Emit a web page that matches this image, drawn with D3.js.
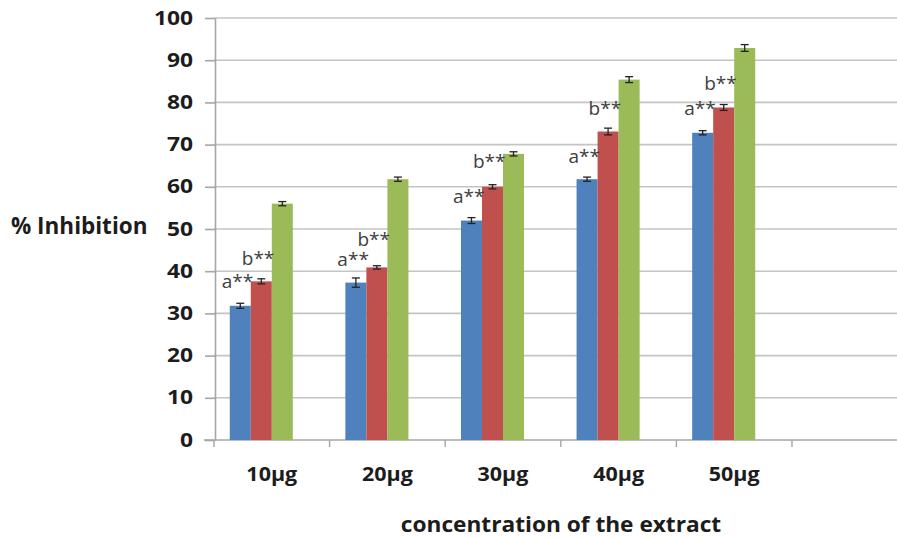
<!DOCTYPE html>
<html>
<head>
<meta charset="utf-8">
<script src="https://cdn.jsdelivr.net/npm/d3@7"></script>
<style>
  html, body { margin: 0; padding: 0; background: #fff; }
  svg { display: block; }
</style>
</head>
<body>
<svg id="chart" width="897" height="539"></svg>
<script>
// Extract concentrations (x categories)
const categories = ["10μg", "20μg", "30μg", "40μg", "50μg"];
// % inhibition for the three groups at each concentration
const blueValues  = [31.8, 37.3, 52.0, 61.8, 72.8];
const redValues   = [37.6, 40.9, 60.0, 73.1, 78.8];
const greenValues = [56.0, 61.8, 67.8, 85.4, 92.9];
// Error bar half-widths
const blueErrors  = [0.6, 1.1, 0.7, 0.5, 0.5];
const redErrors   = [0.6, 0.4, 0.5, 0.8, 0.7];
const greenErrors = [0.5, 0.5, 0.5, 0.7, 0.8];
// Significance marks and the value level of their baselines
const aMarks = ["a**", "a**", "a**", "a**", "a**"];
const bMarks = ["b**", "b**", "b**", "b**", "b**"];
const aLevels = [36.0, 41.3, 56.2, 65.6, 77.0];
const bLevels = [41.5, 46.0, 64.5, 77.0, 82.9];
// Y axis ticks
const yTicks = [0, 10, 20, 30, 40, 50, 60, 70, 80, 90, 100];

const yTitle = "% Inhibition";
const xTitle = "concentration of the extract";

const series = [
  { values: blueValues,  errors: blueErrors,  color: "#4F81BD" },
  { values: redValues,   errors: redErrors,   color: "#C0504D" },
  { values: greenValues, errors: greenErrors, color: "#9BBB59" }
];

const svg = d3.select("#chart");
const W = 897;
const plotLeft = 214, plotTop = 18, plotBottom = 440;
const band = 115.6;

// widen glyphs horizontally by factor k
function widen(sel, k) {
  sel.each(function () {
    const len = this.getComputedTextLength();
    d3.select(this).attr("textLength", len * k).attr("lengthAdjust", "spacingAndGlyphs");
  });
}

// one extra empty slot on the right of the category axis
const slots = categories.concat([""]);
const x0 = d3.scaleBand().domain(slots).range([plotLeft, plotLeft + band * slots.length]).padding(0);
// four bar slots per category (last one unused), Excel-like 150% gap
const barW = x0.bandwidth() / 5.5;
const x1 = d3.scaleBand().domain([0, 1, 2, 3]).range([0.75 * barW, 4.75 * barW]).padding(0);
const y = d3.scaleLinear().domain([0, 100]).range([plotBottom, plotTop]);

const fontBold = "'Open Sans', 'DejaVu Sans', sans-serif";
const textDark = "#1c1c1c";

// gridlines
svg.append("g")
  .selectAll("line")
  .data(yTicks.filter(d => d > 0))
  .join("line")
  .attr("x1", plotLeft).attr("x2", W)
  .attr("y1", d => y(d)).attr("y2", d => y(d))
  .attr("stroke", "#c4c4c4")
  .attr("stroke-width", 1.6);

// y axis
const yAxis = svg.append("g")
  .attr("transform", `translate(${plotLeft + 1},0)`)
  .call(d3.axisLeft(y).tickValues(yTicks).tickSize(10).tickPadding(12).tickSizeOuter(0));
yAxis.select(".domain").attr("stroke", "#a6a6a6").attr("stroke-width", 1.6);
yAxis.selectAll(".tick line").attr("stroke", "#a6a6a6").attr("stroke-width", 1.6);
yAxis.selectAll(".tick text")
  .attr("font-family", fontBold)
  .attr("font-weight", "bold")
  .attr("font-size", 19)
  .attr("fill", textDark)
  .call(widen, 1.2);

// x axis
const xAxis = svg.append("g")
  .attr("transform", `translate(0,${plotBottom})`);
xAxis.append("line")
  .attr("x1", plotLeft - 10).attr("x2", W)
  .attr("stroke", "#a6a6a6").attr("stroke-width", 1.6);
xAxis.selectAll("line.tk")
  .data(slots)
  .join("line")
  .attr("class", "tk")
  .attr("x1", d => x0(d)).attr("x2", d => x0(d))
  .attr("y1", 0).attr("y2", 7)
  .attr("stroke", "#a6a6a6").attr("stroke-width", 1.4);
xAxis.selectAll("text")
  .data(categories)
  .join("text")
  .attr("x", d => x0(d) + x0.bandwidth() / 2)
  .attr("y", 41)
  .attr("text-anchor", "middle")
  .attr("font-family", fontBold)
  .attr("font-weight", "bold")
  .attr("font-size", 19)
  .attr("fill", textDark)
  .text(d => d)
  .call(widen, 1.13);

// bars
series.forEach((s, si) => {
  const g = svg.append("g");
  g.selectAll("rect")
    .data(categories)
    .join("rect")
    .attr("x", d => x0(d) + x1(si))
    .attr("width", x1.bandwidth())
    .attr("y", (d, i) => y(s.values[i]))
    .attr("height", (d, i) => y(0) - y(s.values[i]))
    .attr("fill", s.color);
});

// error bars
series.forEach((s, si) => {
  const g = svg.append("g").attr("stroke", "#222").attr("stroke-width", 1.3);
  categories.forEach((c, i) => {
    const cx = x0(c) + x1(si) + x1.bandwidth() / 2;
    const hi = y(s.values[i] + s.errors[i]);
    const lo = y(s.values[i] - s.errors[i]);
    g.append("line").attr("x1", cx).attr("x2", cx).attr("y1", hi).attr("y2", lo);
    g.append("line").attr("x1", cx - 4).attr("x2", cx + 4).attr("y1", hi).attr("y2", hi);
    g.append("line").attr("x1", cx - 4).attr("x2", cx + 4).attr("y1", lo).attr("y2", lo);
  });
});

// significance marks
const markFont = "'Open Sans', 'DejaVu Sans', sans-serif";
svg.append("g")
  .selectAll("text")
  .data(categories)
  .join("text")
  .attr("x", d => x0(d) + x1(0) - 8)
  .attr("y", (d, i) => y(aLevels[i]))
  .attr("font-family", markFont)
  .attr("font-size", 19)
  .attr("fill", "#404040")
  .text((d, i) => aMarks[i]);
svg.append("g")
  .selectAll("text")
  .data(categories)
  .join("text")
  .attr("x", d => x0(d) + x1(1) - 9)
  .attr("y", (d, i) => y(bLevels[i]))
  .attr("font-family", markFont)
  .attr("font-size", 19)
  .attr("fill", "#404040")
  .text((d, i) => bMarks[i]);

// axis titles
svg.append("text")
  .attr("x", 11).attr("y", 234)
  .attr("font-family", fontBold)
  .attr("font-weight", "bold")
  .attr("font-size", 22.5)
  .attr("fill", textDark)
  .text(yTitle);
svg.append("text")
  .attr("x", 561).attr("y", 532)
  .attr("text-anchor", "middle")
  .attr("font-family", fontBold)
  .attr("font-weight", "bold")
  .attr("font-size", 22)
  .attr("fill", textDark)
  .text(xTitle)
  .call(widen, 1.03);
</script>
</body>
</html>
